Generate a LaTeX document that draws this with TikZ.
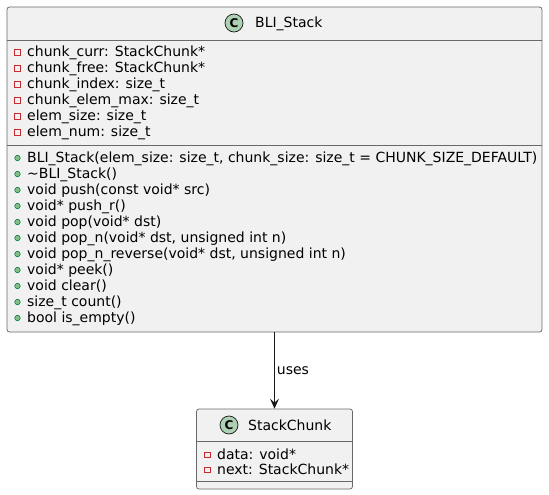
\documentclass[tikz,border=0pt]{standalone}
\usepackage{fontspec}
\setmainfont{DejaVu Sans}
\usetikzlibrary{arrows.meta}
\definecolor{boxfill}{HTML}{F1F1F1}
\definecolor{boxline}{HTML}{181818}
\definecolor{cfill}{HTML}{ADD1B2}
\definecolor{privred}{HTML}{C82930}
\definecolor{pubgreen}{HTML}{038048}
\definecolor{pubfill}{HTML}{84BE84}
\begin{document}
\begin{tikzpicture}[x=1pt,y=-1pt,
  classbox/.style={draw=boxline!65, fill=boxfill, line width=0.75pt, rounded corners=2.5pt, inner sep=0pt},
  sepline/.style={draw=boxline!65, line width=0.75pt},
  member/.style={anchor=base west, inner sep=0pt, font=\fontsize{14}{16}\selectfont},
  title/.style={anchor=base west, inner sep=0pt, font=\fontsize{14}{16}\selectfont},
  priv/.style={draw=privred, line width=0.7pt, minimum size=5.5pt, inner sep=0pt},
  pub/.style={circle, draw=pubgreen, fill=pubfill, minimum size=5.5pt, inner sep=0pt, line width=0.6pt},
  cicon/.style={circle, draw=boxline, fill=cfill, line width=0.7pt, minimum size=18pt, inner sep=0pt, font=\bfseries\fontsize{12}{12}\selectfont},
  conn/.style={draw=boxline, line width=0.8pt, -{Stealth[length=10pt,width=9pt,inset=4pt]}},
  lbl/.style={font=\fontsize{14}{16}\selectfont, inner sep=0pt}
]
\useasboundingbox (0,0) rectangle (549,495);

% BLI_Stack class
\node[classbox, minimum width=535pt, minimum height=325pt] (stack) at (274.5,169.5) {};
\node[cicon] (stackC) at (234,23) {C};
\node[title] (stackT) at (255,28) {BLI\_Stack};
\draw[sepline] (stack.west |- 0,40) -- (stack.east |- 0,40);
\draw[sepline] (stack.west |- 0,145) -- (stack.east |- 0,145);

\foreach \y/\t [count=\i] in {
  51.5/chunk\_curr: StackChunk*,
  67.5/chunk\_free: StackChunk*,
  83.5/chunk\_index: size\_t,
  99.5/chunk\_elem\_max: size\_t,
  115.5/elem\_size: size\_t,
  131.5/elem\_num: size\_t}{
  \node[priv] (sa\i) at (17.5,\y+1) {};
  \node[member] (sm\i) at (27,\y+5) {\t};
}

\foreach \y/\t [count=\i] in {
  157/{BLI\_Stack(elem\_size: size\_t, chunk\_size: size\_t = CHUNK\_SIZE\_DEFAULT)},
  173/{\textasciitilde BLI\_Stack()},
  189/{void push(const void* src)},
  205/{void* push\_r()},
  221/{void pop(void* dst)},
  237/{void pop\_n(void* dst, unsigned int n)},
  253/{void pop\_n\_reverse(void* dst, unsigned int n)},
  269/{void* peek()},
  285/{void clear()},
  301/{size\_t count()},
  317/{bool is\_empty()}}{
  \node[pub] (pm\i) at (17.5,\y+1) {};
  \node[member] (mm\i) at (27,\y+5) {\t};
}

% StackChunk class
\node[classbox, minimum width=156pt, minimum height=80pt] (chunk) at (274.5,449) {};
\node[cicon] (chunkC) at (229,425) {C};
\node[title] (chunkT) at (248,430) {StackChunk};
\draw[sepline] (chunk.west |- 0,441) -- (chunk.east |- 0,441);
\draw[sepline] (chunk.west |- 0,481) -- (chunk.east |- 0,481);
\node[priv] (ca1) at (207.5,455) {};
\node[member] (cm1) at (217,459) {data: void*};
\node[priv] (ca2) at (207.5,470) {};
\node[member] (cm2) at (217,474) {next: StackChunk*};

% relation
\draw[conn] (stack.south) -- node[lbl, midway, right=2pt] (uses) {uses} (chunk.north);
\end{tikzpicture}
\end{document}
